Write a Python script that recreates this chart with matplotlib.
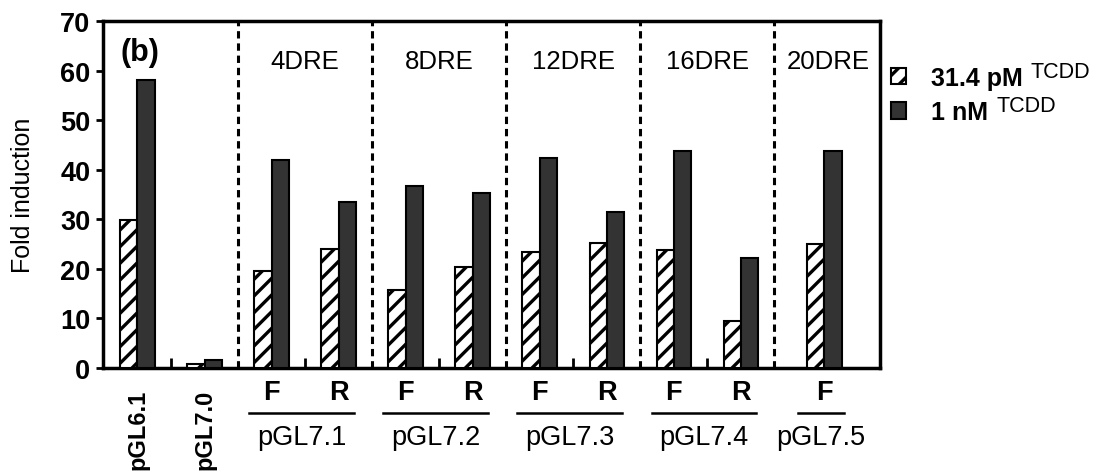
import numpy as np
import matplotlib
matplotlib.use("Agg")
import matplotlib.pyplot as plt
import matplotlib.transforms as mtransforms

plt.rcParams['font.family'] = ['Liberation Sans', 'DejaVu Sans']
plt.rcParams['hatch.linewidth'] = 2.4

# === data ===
constructs  = ["pGL6.1", "pGL7.0", "pGL7.1", "pGL7.1", "pGL7.2", "pGL7.2",
               "pGL7.3", "pGL7.3", "pGL7.4", "pGL7.4", "pGL7.5"]
orientation = ["", "", "F", "R", "F", "R", "F", "R", "F", "R", "F"]
low_dose    = [29.9, 0.8, 19.6, 24.1, 15.8, 20.3, 23.3, 25.3, 23.8, 9.5, 25.0]
high_dose   = [58.0, 1.7, 42.0, 33.4, 36.8, 35.4, 42.3, 31.4, 43.7, 22.1, 43.7]
dre_groups  = ["4DRE", "8DRE", "12DRE", "16DRE", "20DRE"]
series      = ["31.4 pM", "1 nM"]
unit_label  = "TCDD"

# === layout ===
x = np.arange(len(constructs), dtype=float)
x[-1] += 0.25              # last construct sits a bit further right
BAR_W = 0.255
DARK = "#333333"

fig = plt.figure(figsize=(11.12, 4.77), dpi=100)
ax = fig.add_axes([0.0926, 0.2264, 0.6988, 0.7275])

ax.bar(x - BAR_W / 2, low_dose, BAR_W, facecolor="white", edgecolor="black",
       hatch="//", linewidth=1.5, label=series[0], zorder=3)
ax.bar(x + BAR_W / 2, high_dose, BAR_W, facecolor=DARK, edgecolor="black",
       linewidth=1.5, label=series[1], zorder=3)

# --- dashed separators between DRE groups ---
seps = [1.5, 3.5, 5.5, 7.5, 9.5]
for s in seps:
    ax.axvline(s, color="black", linewidth=2.2, dashes=(2.4, 1.6), zorder=2)

# --- DRE group titles ---
grp_centers = [2.5, 4.5, 6.5, 8.5, 10.3]
for c, name in zip(grp_centers, dre_groups):
    ax.text(c, 62, name, ha="center", va="center", fontsize=18.5)

ax.text(0.022, 0.91, "(b)", transform=ax.transAxes, fontsize=22,
        fontweight="bold", ha="left", va="center")

# --- axes ---
ax.set_xlim(-0.515, 11.08)
ax.set_ylim(0, 70)
ax.set_yticks(np.arange(0, 71, 10))
ax.set_xticks([0.5, 2.5, 4.5, 6.5, 8.5])
ax.set_xticklabels([])
ax.tick_params(axis="y", direction="out", length=5, width=2,
               labelsize=19.5, pad=4)
ax.tick_params(axis="x", direction="in", length=7, width=2)
for lab in ax.get_yticklabels():
    lab.set_fontweight("bold")
for sp in ax.spines.values():
    sp.set_linewidth(2.5)
ax.set_ylabel("Fold induction", fontsize=18, labelpad=18)

# --- category labels below the axis ---
trans = mtransforms.blended_transform_factory(ax.transData, ax.transAxes)
for xi, cname, ori in zip(x, constructs, orientation):
    if ori == "":
        ax.text(xi, -0.176, cname, transform=trans, rotation=90, ha="center",
                va="center", fontsize=17, fontweight="bold")
    else:
        ax.text(xi, -0.069, ori, transform=trans, ha="center", va="center",
                fontsize=19.5, fontweight="bold")

# group underline + construct name
names = list(dict.fromkeys(c for c, o in zip(constructs, orientation) if o))
for name in names:
    xs = [xi for xi, c in zip(x, constructs) if c == name]
    mid = np.mean(xs) - 0.05
    half = 0.78 if len(xs) > 1 else 0.34
    ax.plot([mid - half, mid + half], [-0.13, -0.13], color="black",
            linewidth=1.8, transform=trans, clip_on=False)
    ax.text(mid, -0.198, name, transform=trans, ha="center", va="center",
            fontsize=19.5)

# --- legend ---
leg = ax.legend(loc="upper left", bbox_to_anchor=(0.801, 0.86),
                bbox_transform=fig.transFigure, frameon=False,
                handlelength=0.62, handleheight=0.62, handletextpad=1.0,
                labelspacing=0.42, borderaxespad=0, borderpad=0,
                prop={"size": 18, "weight": "bold"})
fig.canvas.draw()
r = fig.canvas.get_renderer()
inv = fig.transFigure.inverted()
for t in leg.get_texts():
    bb = t.get_window_extent(r)
    x0, y0 = inv.transform((bb.x1 + 8, bb.y0 + 8))
    fig.text(x0, y0, unit_label, fontsize=15.5, ha="left", va="bottom")

fig.savefig("out.png", dpi=100)
